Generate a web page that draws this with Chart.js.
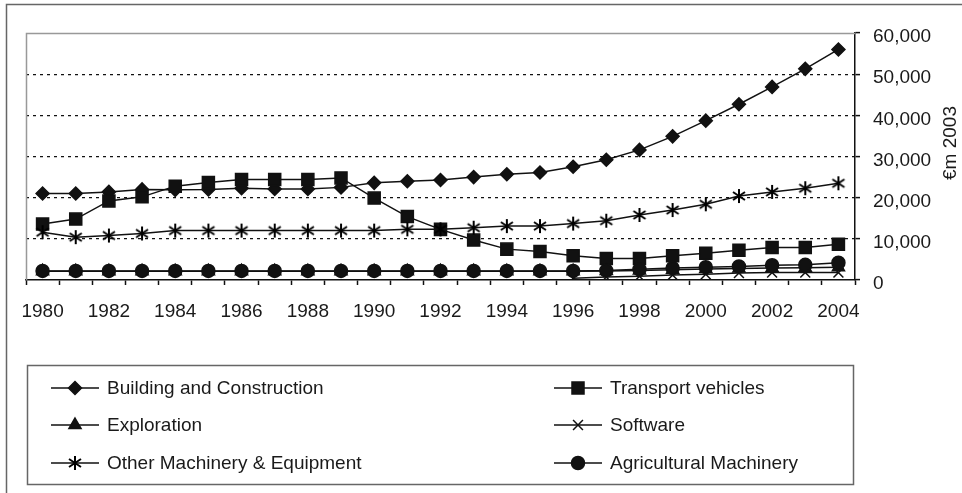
<!DOCTYPE html>
<html>
<head>
<meta charset="utf-8">
<title>Inversión por tipo de activo</title>
<script src="https://cdn.jsdelivr.net/npm/chart.js@4.4.0/dist/chart.umd.min.js"></script>
<style>
    html, body { margin: 0; padding: 0; background: #fff; }
</style>
</head>
<body>
<canvas id="myChart" width="962" height="493"></canvas>
<script>
var anios = ["1980", "1981", "1982", "1983", "1984", "1985", "1986", "1987", "1988", "1989", "1990", "1991", "1992",
    "1993", "1994", "1995", "1996", "1997", "1998", "1999", "2000", "2001", "2002", "2003", "2004"];

var edificacion = [21000, 21000, 21400, 22000, 21900, 22000, 22300, 22100, 22100, 22500, 23600, 24000, 24300,
    25000, 25700, 26100, 27500, 29200, 31600, 34900, 38700, 42700, 46900, 51300, 56000];
var transporte = [13600, 14800, 19200, 20200, 22800, 23700, 24400, 24400, 24400, 24800, 19900, 15400, 12300,
    9700, 7500, 6900, 5900, 5200, 5200, 5900, 6500, 7200, 7900, 7900, 8700];
var exploracion = [2100, 2100, 2100, 2100, 2100, 2100, 2100, 2100, 2100, 2100, 2100, 2100, 2100,
    2100, 2100, 2100, 2100, 2200, 2300, 2500, 2700, 2800, 2900, 3000, 3100];
var software = [null, null, null, null, null, null, null, null, null, null, null, null, null,
    null, null, null, 400, 700, 900, 1200, 1400, 1700, 1800, 1800, 1800];
var otraMaquinaria = [11600, 10400, 10800, 11300, 12000, 12000, 12000, 12000, 12000, 12000, 12000, 12300, 12300,
    12700, 13100, 13100, 13700, 14400, 15800, 17000, 18400, 20400, 21400, 22300, 23500];
var agricola = [2200, 2200, 2200, 2200, 2200, 2200, 2200, 2200, 2200, 2200, 2200, 2200, 2200,
    2200, 2200, 2200, 2200, 2300, 2600, 2900, 3100, 3300, 3600, 3700, 4200];

var ticksY = [0, 10000, 20000, 30000, 40000, 50000, 60000];
var tituloY = "€m 2003";

var negro = "#111";
var fuente = "'Liberation Sans', Arial, Helvetica, sans-serif";

// asterisco tipo Excel: X con barra vertical
function asterisco() {
    var c = document.createElement("canvas");
    c.width = 18;
    c.height = 18;
    var g = c.getContext("2d");
    g.strokeStyle = "#000";
    g.lineWidth = 2;
    g.beginPath();
    g.moveTo(9, 2); g.lineTo(9, 16);
    g.moveTo(3, 5); g.lineTo(15, 13);
    g.moveTo(15, 5); g.lineTo(3, 13);
    g.stroke();
    return c;
}

function serie(nombre, datos, estilo, radio, orden) {
    return {
        label: nombre,
        data: datos,
        borderColor: negro,
        backgroundColor: negro,
        borderWidth: 1.5,
        pointStyle: estilo,
        pointRadius: radio,
        pointHoverRadius: radio,
        pointBorderWidth: 1.5,
        pointBackgroundColor: negro,
        pointBorderColor: negro,
        tension: 0,
        spanGaps: false,
        order: orden
    };
}

var datasets = [
    serie("Building and Construction", edificacion, "rectRot", 6.5, 6),
    serie("Transport vehicles", transporte, "rect", 8.5, 5),
    serie("Exploration", exploracion, "triangle", 7, 4),
    serie("Software", software, "crossRot", 7, 3),
    serie("Other Machinery & Equipment", otraMaquinaria, asterisco(), 8, 2),
    serie("Agricultural Machinery", agricola, "circle", 6.5, 1)
];

// marco, bordes del area, titulo del eje y leyenda
var adornos = {
    id: "adornos",
    beforeDraw: function(c) {
        var ctx = c.ctx;
        ctx.save();
        ctx.fillStyle = "#fff";
        ctx.fillRect(0, 0, c.width, c.height);
        ctx.restore();
    },
    beforeDatasetsDraw: function(c) {
        var ctx = c.ctx, a = c.chartArea;
        ctx.save();
        ctx.strokeStyle = "#999";
        ctx.lineWidth = 1.5;
        ctx.beginPath();
        ctx.moveTo(a.left + 0.5, a.bottom);
        ctx.lineTo(a.left + 0.5, a.top + 0.5);
        ctx.lineTo(a.right, a.top + 0.5);
        ctx.stroke();
        ctx.restore();
    },
    afterDraw: function(c) {
        var ctx = c.ctx;
        ctx.save();
        ctx.strokeStyle = "#666";
        ctx.lineWidth = 1.5;
        ctx.beginPath();
        ctx.moveTo(6.5, c.height);
        ctx.lineTo(6.5, 4.5);
        ctx.lineTo(c.width, 4.5);
        ctx.stroke();

        // titulo del eje y, de abajo hacia arriba
        ctx.fillStyle = "#1a1a1a";
        ctx.font = "19px " + fuente;
        ctx.textAlign = "center";
        ctx.textBaseline = "middle";
        ctx.translate(951, 143);
        ctx.rotate(-Math.PI / 2);
        ctx.fillText(tituloY, 0, 0);
        ctx.setTransform(1, 0, 0, 1, 0, 0);

        // caja de la leyenda
        ctx.strokeStyle = "#666";
        ctx.strokeRect(27.5, 365.5, 826, 119);

        var colX = [51, 554], filaY = [388, 425, 463];
        ctx.textAlign = "left";
        datasets.forEach(function(d, i) {
            var x = colX[i % 2], y = filaY[Math.floor(i / 2)];
            ctx.strokeStyle = negro;
            ctx.fillStyle = negro;
            ctx.lineWidth = 1.5;
            ctx.beginPath();
            ctx.moveTo(x, y);
            ctx.lineTo(x + 48, y);
            ctx.stroke();
            Chart.helpers.drawPoint(ctx, {
                pointStyle: d.pointStyle,
                radius: d.pointRadius,
                borderWidth: 1.5,
                rotation: 0
            }, x + 24, y);
            ctx.fillStyle = "#1a1a1a";
            ctx.fillText(d.label, x + 56, y + 1);
        });
        ctx.restore();
    }
};

var ctx = document.getElementById("myChart").getContext("2d");
new Chart(ctx, {
    type: "line",
    data: { labels: anios, datasets: datasets },
    options: {
        responsive: false,
        animation: false,
        devicePixelRatio: 1,
        layout: { padding: { left: 26, top: 33, right: 0, bottom: 168 } },
        plugins: { legend: { display: false }, tooltip: { enabled: false }, title: { display: false } },
        scales: {
            x: {
                offset: true,
                grid: { offset: true, drawOnChartArea: false, drawTicks: true, tickLength: 5, tickColor: negro, tickWidth: 1.5 },
                border: { color: negro, width: 1.5 },
                ticks: {
                    autoSkip: false,
                    maxRotation: 0,
                    padding: 15,
                    color: "#1a1a1a",
                    font: { family: fuente, size: 19 },
                    callback: function(v, i) { return i % 2 === 0 ? this.getLabelForValue(v) : ""; }
                },
                afterFit: function(s) { s.height = 45; }
            },
            y: {
                position: "right",
                min: ticksY[0],
                max: ticksY[ticksY.length - 1],
                afterBuildTicks: function(s) { s.ticks = ticksY.map(function(v) { return { value: v }; }); },
                grid: {
                    color: function(g) { return g.tick && (g.tick.value === 0 || g.tick.value === 60000) ? "rgba(0,0,0,0)" : negro; },
                    lineWidth: 1.2,
                    tickColor: negro,
                    tickWidth: 1.5,
                    tickLength: 5
                },
                border: { color: negro, width: 1.5, dash: [3, 4] },
                ticks: {
                    padding: 13,
                    labelOffset: 4,
                    color: "#1a1a1a",
                    font: { family: fuente, size: 19 },
                    callback: function(v) { return v.toLocaleString("en-US"); }
                },
                afterFit: function(s) { s.width = 107; }
            }
        }
    },
    plugins: [adornos]
});
</script>
</body>
</html>
